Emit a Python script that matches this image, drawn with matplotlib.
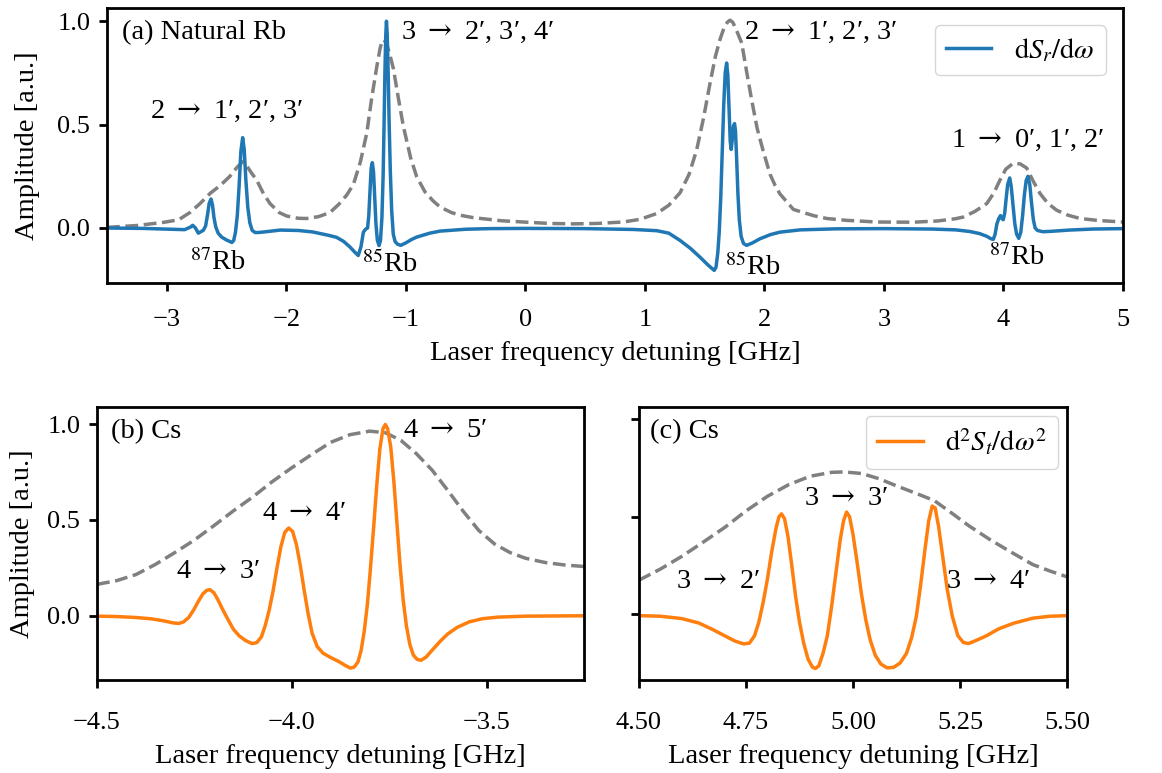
import matplotlib
matplotlib.use("Agg")
import matplotlib.pyplot as plt

plt.rcParams['font.family'] = ['Liberation Serif', 'DejaVu Serif']
plt.rcParams['mathtext.fontset'] = 'stix'

# ---------------- data: panel (a) natural Rb ----------------
a_blue_x = [-3.50, -3.20, -2.95, -2.85, -2.80, -2.783, -2.76, -2.736, -2.694, -2.675,
            -2.660, -2.645, -2.630, -2.617, -2.605, -2.590, -2.570, -2.541, -2.50, -2.455,
            -2.440, -2.425, -2.410, -2.395, -2.380, -2.365, -2.352, -2.338, -2.322, -2.305,
            -2.285, -2.260, -2.240, -2.20, -2.05, -1.90, -1.78, -1.65, -1.58, -1.52,
            -1.467, -1.43, -1.398, -1.375, -1.355, -1.335, -1.320, -1.310, -1.300, -1.290,
            -1.280, -1.270, -1.260, -1.250, -1.238, -1.224, -1.212, -1.200, -1.190, -1.182,
            -1.175, -1.168, -1.162, -1.156, -1.148, -1.140, -1.130, -1.118, -1.105, -1.090,
            -1.070, -1.043, -1.000, -0.950, -0.909, -0.80, -0.714, -0.50, -0.30, 0.00,
            0.50, 0.90, 1.10, 1.20, 1.294, 1.38, 1.461, 1.53, 1.580, 1.595,
            1.610, 1.622, 1.635, 1.648, 1.660, 1.672, 1.684, 1.694, 1.704, 1.714,
            1.722, 1.730, 1.740, 1.750, 1.758, 1.768, 1.778, 1.790, 1.805, 1.825,
            1.851, 1.90, 1.963, 2.05, 2.13, 2.30, 2.60, 3.00, 3.40, 3.60,
            3.72, 3.80, 3.86, 3.895, 3.915, 3.930, 3.945, 3.960, 3.975, 3.988,
            3.998, 4.010, 4.022, 4.035, 4.052, 4.065, 4.080, 4.095, 4.110, 4.128,
            4.145, 4.160, 4.175, 4.190, 4.205, 4.220, 4.235, 4.250, 4.265, 4.285,
            4.33, 4.40, 4.55, 4.75, 5.00]
a_blue_y = [0.000, -0.002, -0.006, -0.008, 0.005, 0.013, 0.000, -0.025, -0.011, 0.010,
            0.060, 0.120, 0.140, 0.110, 0.050, 0.005, -0.025, -0.044, -0.058, -0.070,
            -0.060, -0.020, 0.060, 0.200, 0.370, 0.437, 0.380, 0.230, 0.100, 0.025,
            -0.012, -0.022, -0.022, -0.020, -0.010, -0.012, -0.019, -0.035, -0.045, -0.065,
            -0.092, -0.115, -0.133, -0.090, -0.020, -0.005, 0.000, 0.060, 0.180, 0.290,
            0.316, 0.270, 0.140, 0.020, -0.060, -0.085, -0.060, 0.050, 0.250, 0.500,
            0.750, 0.930, 1.000, 0.940, 0.760, 0.520, 0.280, 0.080, -0.030, -0.065,
            -0.078, -0.084, -0.072, -0.055, -0.044, -0.025, -0.015, -0.006, -0.003, -0.002,
            -0.003, -0.007, -0.013, -0.025, -0.060, -0.098, -0.141, -0.180, -0.205, -0.190,
            -0.120, -0.020, 0.150, 0.380, 0.600, 0.750, 0.798, 0.740, 0.580, 0.420,
            0.380, 0.420, 0.490, 0.505, 0.470, 0.330, 0.170, 0.040, -0.040, -0.075,
            -0.084, -0.072, -0.052, -0.032, -0.020, -0.009, -0.004, -0.003, -0.005, -0.009,
            -0.017, -0.027, -0.040, -0.052, -0.055, -0.030, 0.020, 0.045, 0.060, 0.045,
            0.040, 0.070, 0.140, 0.210, 0.242, 0.200, 0.110, 0.020, -0.030, -0.050,
            -0.020, 0.060, 0.160, 0.230, 0.250, 0.210, 0.120, 0.040, 0.000, -0.012,
            -0.018, -0.016, -0.010, -0.005, -0.003]

a_dash_x = [-3.50, -3.25, -3.03, -2.90, -2.806, -2.722, -2.638, -2.55, -2.472, -2.41,
            -2.365, -2.33, -2.29, -2.248, -2.19, -2.136, -2.06, -1.997, -1.90, -1.829,
            -1.73, -1.634, -1.56, -1.495, -1.439, -1.38, -1.327, -1.285, -1.243, -1.215,
            -1.200, -1.188, -1.175, -1.160, -1.130, -1.104, -1.06, -1.020, -0.96, -0.909,
            -0.84, -0.77, -0.714, -0.62, -0.547, -0.436, -0.20, -0.017, 0.20, 0.401,
            0.60, 0.819, 0.96, 1.099, 1.20, 1.294, 1.37, 1.433, 1.49, 1.545,
            1.59, 1.628, 1.660, 1.690, 1.712, 1.735, 1.76, 1.810, 1.850, 1.893,
            1.94, 1.991, 2.047, 2.09, 2.13, 2.242, 2.297, 2.409, 2.521, 2.688,
            2.939, 3.246, 3.45, 3.60, 3.664, 3.76, 3.86, 3.92, 3.971, 4.02,
            4.082, 4.14, 4.194, 4.25, 4.306, 4.37, 4.445, 4.54, 4.64, 4.80,
            5.00]
a_dash_y = [0.003, 0.012, 0.027, 0.040, 0.075, 0.118, 0.167, 0.207, 0.250, 0.295,
            0.320, 0.300, 0.265, 0.232, 0.165, 0.118, 0.075, 0.058, 0.047, 0.046,
            0.055, 0.075, 0.115, 0.159, 0.210, 0.320, 0.458, 0.630, 0.780, 0.870,
            0.900, 0.911, 0.905, 0.890, 0.830, 0.770, 0.620, 0.490, 0.340, 0.248,
            0.175, 0.130, 0.102, 0.075, 0.062, 0.050, 0.035, 0.029, 0.022, 0.020,
            0.022, 0.029, 0.042, 0.070, 0.110, 0.170, 0.260, 0.377, 0.530, 0.700,
            0.830, 0.911, 0.965, 0.995, 1.005, 0.995, 0.965, 0.895, 0.760, 0.620,
            0.480, 0.370, 0.260, 0.205, 0.165, 0.090, 0.080, 0.060, 0.046, 0.037,
            0.029, 0.028, 0.034, 0.045, 0.053, 0.080, 0.118, 0.170, 0.232, 0.285,
            0.313, 0.310, 0.290, 0.225, 0.167, 0.120, 0.086, 0.062, 0.046, 0.036,
            0.029]

# ---------------- data: panel (b) Cs, F=4 ----------------
b_line_x = [-4.500, -4.450, -4.400, -4.360, -4.330, -4.305, -4.290, -4.278, -4.265, -4.252,
            -4.240, -4.228, -4.218, -4.210, -4.200, -4.190, -4.178, -4.165, -4.150, -4.135,
            -4.118, -4.102, -4.090, -4.078, -4.068, -4.058, -4.048, -4.038, -4.028, -4.018,
            -4.008, -3.998, -3.988, -3.978, -3.968, -3.958, -3.948, -3.935, -3.920, -3.900,
            -3.880, -3.862, -3.850, -3.840, -3.830, -3.822, -3.814, -3.806, -3.798, -3.790,
            -3.782, -3.774, -3.766, -3.760, -3.754, -3.746, -3.738, -3.730, -3.722, -3.714,
            -3.706, -3.697, -3.688, -3.678, -3.668, -3.655, -3.640, -3.620, -3.600, -3.575,
            -3.545, -3.510, -3.470, -3.400, -3.250]
b_line_y = [-0.002, -0.004, -0.009, -0.016, -0.026, -0.037, -0.040, -0.032, -0.010, 0.030,
            0.075, 0.115, 0.133, 0.136, 0.120, 0.085, 0.035, -0.015, -0.070, -0.105,
            -0.130, -0.145, -0.140, -0.110, -0.050, 0.030, 0.130, 0.250, 0.360, 0.435,
            0.458, 0.440, 0.370, 0.260, 0.130, 0.010, -0.090, -0.160, -0.195, -0.218,
            -0.238, -0.260, -0.273, -0.268, -0.240, -0.180, -0.080, 0.060, 0.250, 0.460,
            0.680, 0.870, 0.975, 0.998, 0.975, 0.880, 0.700, 0.480, 0.260, 0.080,
            -0.050, -0.150, -0.205, -0.228, -0.232, -0.215, -0.180, -0.135, -0.095, -0.060,
            -0.032, -0.015, -0.007, -0.002, 0.000]
b_dash_x = [-4.50, -4.45, -4.40, -4.35, -4.30, -4.25, -4.20, -4.15, -4.10, -4.05,
            -4.00, -3.95, -3.90, -3.85, -3.80, -3.76, -3.72, -3.68, -3.64, -3.60,
            -3.56, -3.52, -3.48, -3.44, -3.40, -3.35, -3.30, -3.25]
b_dash_y = [0.164, 0.183, 0.215, 0.268, 0.330, 0.395, 0.470, 0.547, 0.620, 0.700,
            0.772, 0.840, 0.905, 0.945, 0.963, 0.955, 0.915, 0.845, 0.760, 0.655,
            0.545, 0.445, 0.375, 0.330, 0.300, 0.278, 0.265, 0.257]

# ---------------- data: panel (c) Cs, F=3 ----------------
c_line_x = [4.500, 4.550, 4.600, 4.640, 4.674, 4.700, 4.725, 4.745, 4.758, 4.770,
            4.780, 4.790, 4.800, 4.810, 4.820, 4.827, 4.833, 4.840, 4.848, 4.857,
            4.866, 4.875, 4.885, 4.895, 4.905, 4.912, 4.920, 4.930, 4.940, 4.950,
            4.960, 4.970, 4.978, 4.985, 4.992, 5.000, 5.010, 5.020, 5.030, 5.040,
            5.052, 5.065, 5.080, 5.095, 5.110, 5.125, 5.137, 5.148, 5.158, 5.168,
            5.177, 5.185, 5.192, 5.200, 5.210, 5.220, 5.232, 5.245, 5.258, 5.270,
            5.290, 5.312, 5.340, 5.375, 5.420, 5.460, 5.500]
c_line_y = [-0.007, -0.010, -0.022, -0.045, -0.080, -0.110, -0.138, -0.152, -0.148, -0.110,
            -0.040, 0.060, 0.180, 0.320, 0.440, 0.500, 0.515, 0.490, 0.400, 0.250,
            0.090, -0.040, -0.150, -0.230, -0.270, -0.278, -0.265, -0.200, -0.110, 0.040,
            0.210, 0.380, 0.480, 0.524, 0.500, 0.410, 0.260, 0.100, -0.030, -0.130,
            -0.210, -0.255, -0.275, -0.272, -0.250, -0.200, -0.120, -0.010, 0.150, 0.330,
            0.480, 0.555, 0.545, 0.450, 0.290, 0.130, -0.010, -0.110, -0.145, -0.150,
            -0.132, -0.110, -0.075, -0.046, -0.020, -0.010, -0.007]
c_dash_x = [4.50, 4.55, 4.60, 4.65, 4.70, 4.75, 4.80, 4.85, 4.90, 4.95,
            4.98, 5.02, 5.06, 5.10, 5.15, 5.19, 5.23, 5.27, 5.32, 5.37,
            5.42, 5.46, 5.50]
c_dash_y = [0.175, 0.232, 0.297, 0.370, 0.445, 0.530, 0.605, 0.665, 0.708, 0.728,
            0.730, 0.722, 0.696, 0.660, 0.618, 0.583, 0.520, 0.455, 0.383, 0.318,
            0.255, 0.222, 0.192]

a_xticks = [-3, -2, -1, 0, 1, 2, 3, 4, 5]
b_xticks = [-4.5, -4.0, -3.5]
c_xticks = [4.50, 4.75, 5.00, 5.25, 5.50]
yticks = [0.0, 0.5, 1.0]

ARR = r" $\rightarrow$ "
a_labels = [("2" + ARR + "1\u2032, 2\u2032, 3\u2032", -2.50, 0.563),
            ("3" + ARR + "2\u2032, 3\u2032, 4\u2032", -0.40, 0.944),
            ("2" + ARR + "1\u2032, 2\u2032, 3\u2032", 2.473, 0.945),
            ("1" + ARR + "0\u2032, 1\u2032, 2\u2032", 4.20, 0.426)]
a_iso = [(r"$^{87}$Rb", -2.569, -0.165),
         (r"$^{85}$Rb", -1.132, -0.173),
         (r"$^{85}$Rb", 1.90, -0.19),
         (r"$^{87}$Rb", 4.113, -0.141)]
b_labels = [("4" + ARR + "3\u2032", -4.189, 0.23),
            ("4" + ARR + "4\u2032", -3.968, 0.536),
            ("4" + ARR + "5\u2032", -3.606, 0.969)]
c_labels = [("3" + ARR + "2\u2032", 4.685, 0.166),
            ("3" + ARR + "3\u2032", 4.985, 0.592),
            ("3" + ARR + "4\u2032", 5.316, 0.166)]

BLUE = '#1f77b4'
ORANGE = '#ff7f0e'
GRAY = 'gray'
TICK_FS = 19
LAB_FS = 20.5
W, H = 1162, 773

fig = plt.figure(figsize=(W / 100, H / 100), dpi=100)

def px_axes(l, r, t, b):
    return fig.add_axes([l / W, (H - b) / H, (r - l) / W, (b - t) / H])

ax_a = px_axes(107, 1123, 8, 283)
ax_b = px_axes(97, 584, 407, 680)
ax_c = px_axes(639, 1067, 407, 680)

for ax in (ax_a, ax_b, ax_c):
    for s in ax.spines.values():
        s.set_linewidth(2.0)
    ax.tick_params(axis='both', which='major', width=2.0, length=6,
                   labelsize=TICK_FS)
    ax.tick_params(axis='y', pad=6)
    ax.tick_params(axis='x', pad=17)
    ax.set_yticks(yticks)
ax_a.tick_params(axis='x', pad=13)

def trans_label(ax, txt, x, y):
    ax.text(x, y, txt, fontsize=LAB_FS, ha='center', va='center',
            math_fontfamily='dejavuserif')

# panel (a)
ax_a.plot(a_dash_x, a_dash_y, color=GRAY, lw=2.5, ls='--')
ax_a.plot(a_blue_x, a_blue_y, color=BLUE, lw=2.5, label=r"$\mathrm{d}S_r/\mathrm{d}\omega$")
ax_a.set_xlim(-3.5, 5)
ax_a.set_ylim(-0.266, 1.064)
ax_a.set_xticks(a_xticks)
ax_a.set_xlabel("Laser frequency detuning [GHz]", fontsize=LAB_FS)
ax_a.set_ylabel("Amplitude [a.u.]", fontsize=LAB_FS)
ax_a.xaxis.set_label_coords(0.5, -0.255)
ax_a.xaxis.label.set_va('center')
ax_a.yaxis.set_label_coords(-0.0787, 0.5)
ax_a.yaxis.label.set_va('center')
ax_a.text(0.0145, 0.909, "(a) Natural Rb", transform=ax_a.transAxes,
          fontsize=LAB_FS, ha='left', va='center')
for txt, x, y in a_labels:
    trans_label(ax_a, txt, x, y)
for txt, x, y in a_iso:
    ax_a.text(x, y, txt, fontsize=LAB_FS, ha='center', va='center')
ax_a.legend(loc='upper right', fontsize=LAB_FS, handlelength=1.6, borderaxespad=0.6)

# panel (b)
ax_b.plot(b_dash_x, b_dash_y, color=GRAY, lw=2.5, ls='--')
ax_b.plot(b_line_x, b_line_y, color=ORANGE, lw=2.5)
ax_b.set_xlim(-4.5, -3.25)
ax_b.set_ylim(-0.335, 1.089)
ax_b.set_xticks(b_xticks)
ax_b.set_xticklabels([f"{v:.1f}".replace('-', '\u2212') for v in b_xticks])
ax_b.set_xlabel("Laser frequency detuning [GHz]", fontsize=LAB_FS)
ax_b.set_ylabel("Amplitude [a.u.]", fontsize=LAB_FS)
ax_b.xaxis.set_label_coords(0.5, -0.282)
ax_b.xaxis.label.set_va('center')
ax_b.yaxis.set_label_coords(-0.153, 0.5)
ax_b.yaxis.label.set_va('center')
ax_b.text(14 / 487, 1 - 25 / 273, "(b) Cs", transform=ax_b.transAxes,
          fontsize=LAB_FS, ha='left', va='center')
for txt, x, y in b_labels:
    trans_label(ax_b, txt, x, y)

# panel (c)
ax_c.plot(c_dash_x, c_dash_y, color=GRAY, lw=2.5, ls='--')
ax_c.plot(c_line_x, c_line_y, color=ORANGE, lw=2.5, label=r"$\mathrm{d}^2S_t/\mathrm{d}\omega^2$")
ax_c.set_xlim(4.5, 5.5)
ax_c.set_ylim(-0.337, 1.063)
ax_c.set_xticks(c_xticks)
ax_c.set_xticklabels([f"{v:.2f}" for v in c_xticks])
ax_c.set_yticklabels([])
ax_c.set_xlabel("Laser frequency detuning [GHz]", fontsize=LAB_FS)
ax_c.xaxis.set_label_coords(0.5, -0.282)
ax_c.xaxis.label.set_va('center')
ax_c.text(11 / 428, 1 - 25 / 273, "(c) Cs", transform=ax_c.transAxes,
          fontsize=LAB_FS, ha='left', va='center')
for txt, x, y in c_labels:
    trans_label(ax_c, txt, x, y)
ax_c.legend(loc='upper right', fontsize=LAB_FS, handlelength=1.6, borderaxespad=0.3)

fig.savefig("out.png", dpi=100)
